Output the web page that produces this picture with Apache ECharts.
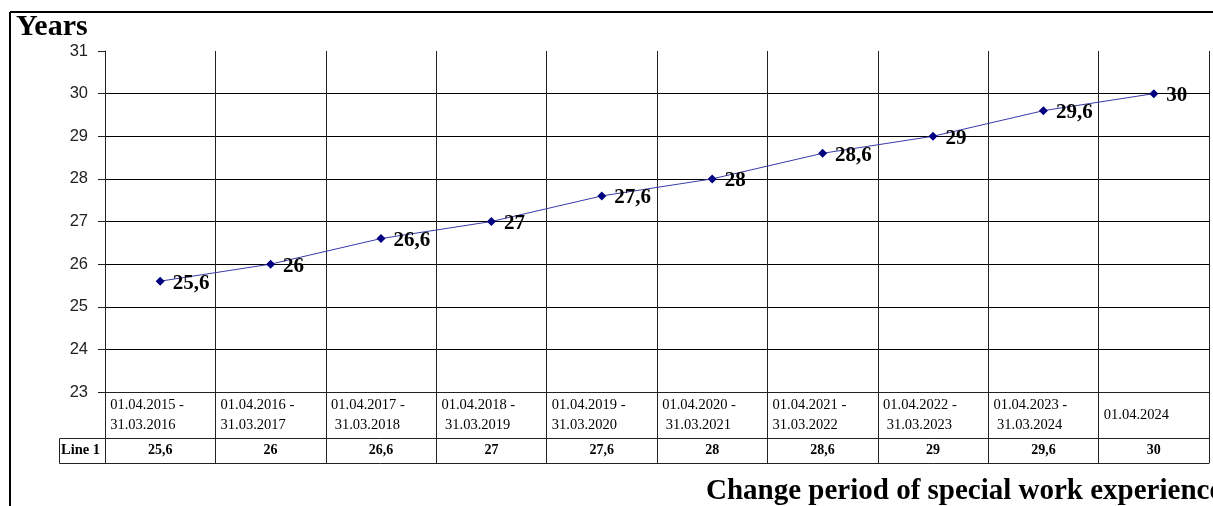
<!DOCTYPE html>
<html>
<head>
<meta charset="utf-8">
<script src="https://cdn.jsdelivr.net/npm/echarts/dist/echarts.min.js"></script>
<style>
  html, body { margin: 0; padding: 0; background: #fff; }
  #chart { width: 1213px; height: 506px; }
</style>
</head>
<body>
<div id="chart"></div>
<script>
// periods of the chart (second line of some labels starts with a space, as in the original)
var periods = [
    '01.04.2015 -\n31.03.2016',
    '01.04.2016 -\n31.03.2017',
    '01.04.2017 -\n 31.03.2018',
    '01.04.2018 -\n 31.03.2019',
    '01.04.2019 -\n31.03.2020',
    '01.04.2020 -\n 31.03.2021',
    '01.04.2021 -\n31.03.2022',
    '01.04.2022 -\n 31.03.2023',
    '01.04.2023 -\n 31.03.2024',
    '01.04.2024'
];
var years = [25.6, 26, 26.6, 27, 27.6, 28, 28.6, 29, 29.6, 30];
var seriesName = 'Line 1';
var yTitle = 'Years';
var xTitle = 'Change period of special work experience';

function comma(v) {
    return String(v).replace('.', ',');
}

var serif = 'Liberation Serif';
var lineCol = '#222';

var myChart = echarts.init(document.getElementById('chart'));

var option = {
    animation: false,
    title: [
        {
            text: yTitle,
            left: 16,
            top: 12,
            padding: 0,
            textStyle: { fontFamily: serif, fontSize: 30, fontWeight: 'bold', color: '#000' }
        },
        {
            text: xTitle,
            left: 706,
            top: 477,
            padding: 0,
            textStyle: { fontFamily: serif, fontSize: 29, fontWeight: 'bold', color: '#000' }
        }
    ],
    grid: { left: 105, right: 4, top: 51, bottom: 114 },
    xAxis: [
        {
            type: 'category',
            data: periods,
            position: 'bottom',
            axisLine: { show: true, lineStyle: { color: lineCol, width: 1 } },
            axisTick: { show: true, length: 71, lineStyle: { color: lineCol, width: 1 } },
            splitLine: { show: true, lineStyle: { color: lineCol, width: 1 } },
            axisLabel: {
                interval: 0,
                margin: 23,
                verticalAlign: 'middle',
                align: 'center',
                formatter: function (v) {
                    return v.split('\n').map(function (s) { return '{d|' + s + '}'; }).join('\n');
                },
                rich: {
                    d: { width: 100, align: 'left', fontFamily: serif, fontSize: 14.5, lineHeight: 20, color: '#000' }
                }
            }
        },
        {
            type: 'category',
            data: years.map(comma),
            position: 'bottom',
            offset: 46,
            axisLine: { show: true, lineStyle: { color: lineCol, width: 1 } },
            axisTick: { show: false },
            splitLine: { show: false },
            axisLabel: {
                interval: 0,
                margin: 12,
                verticalAlign: 'middle',
                fontFamily: serif,
                fontSize: 14,
                fontWeight: 'bold',
                color: '#000'
            }
        },
        {
            type: 'category',
            data: periods,
            position: 'bottom',
            offset: 71,
            axisLine: { show: true, lineStyle: { color: lineCol, width: 1 } },
            axisTick: { show: false },
            splitLine: { show: false },
            axisLabel: { show: false }
        }
    ],
    yAxis: {
        type: 'value',
        min: 23,
        max: 31,
        interval: 1,
        axisLine: { show: true, lineStyle: { color: lineCol, width: 1 } },
        axisTick: { show: true, length: 7, lineStyle: { color: lineCol, width: 1 } },
        splitLine: { show: true, showMaxLine: false, lineStyle: { color: '#000', width: 1 } },
        axisLabel: { margin: 17, fontFamily: 'Liberation Sans', fontSize: 16.5, color: '#222' }
    },
    series: [
        {
            name: seriesName,
            type: 'line',
            data: years,
            symbol: 'diamond',
            symbolSize: 9,
            lineStyle: { color: '#3a3aa8', width: 1 },
            itemStyle: { color: '#000080' },
            label: {
                show: true,
                position: 'right',
                distance: 8,
                offset: [0, 2],
                formatter: function (p) { return comma(p.value); },
                fontFamily: serif,
                fontSize: 21,
                fontWeight: 'bold',
                color: '#000'
            }
        }
    ],
    graphic: [
        // outer frame (left and top edges)
        { type: 'line', shape: { x1: 10, y1: 12, x2: 10, y2: 506 }, style: { stroke: '#000', lineWidth: 2 } },
        { type: 'line', shape: { x1: 10, y1: 12, x2: 1213, y2: 12 }, style: { stroke: '#000', lineWidth: 2 } },
        // "Line 1" cell of the data table
        { type: 'line', shape: { x1: 59.5, y1: 438.5, x2: 105, y2: 438.5 }, style: { stroke: lineCol, lineWidth: 1 } },
        { type: 'line', shape: { x1: 59.5, y1: 463.5, x2: 105, y2: 463.5 }, style: { stroke: lineCol, lineWidth: 1 } },
        { type: 'line', shape: { x1: 59.5, y1: 438.5, x2: 59.5, y2: 463.5 }, style: { stroke: lineCol, lineWidth: 1 } },
        {
            type: 'text', left: 61, top: 443,
            style: { text: seriesName, font: 'bold 14.5px "Liberation Serif"', fill: '#000' }
        }
    ]
};
myChart.setOption(option);
</script>
</body>
</html>
